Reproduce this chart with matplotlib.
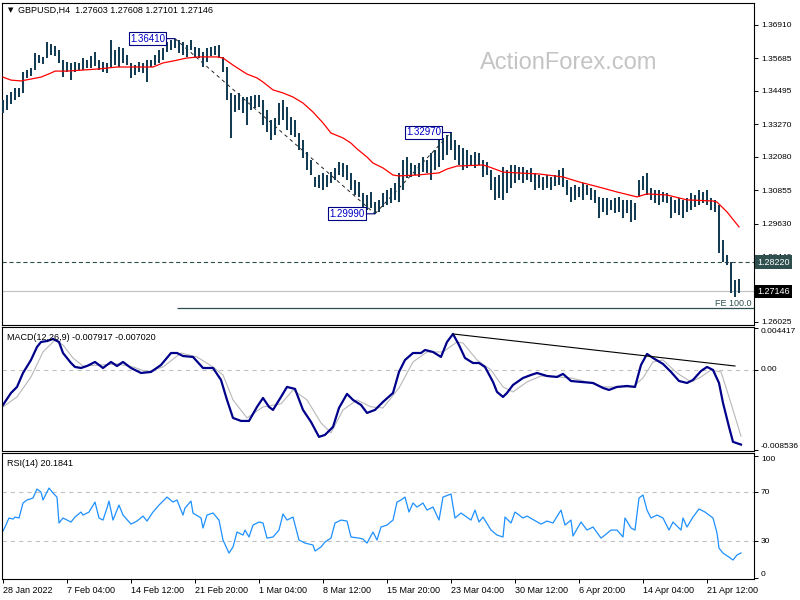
import numpy as np
import matplotlib.pyplot as plt

plt.rcParams['font.family'] = ['Liberation Sans', 'DejaVu Sans']
plt.rcParams['lines.scale_dashes'] = False

# GBPUSD H4 bars (every other bar)
bar_idx = np.arange(0, 370, 2)
highs = [
    1.3416, 1.3434, 1.3445, 1.3460, 1.3460, 1.3519, 1.3526, 1.3533, 1.3588, 1.3581,
    1.3574, 1.3629, 1.3621, 1.3614, 1.3599, 1.3563, 1.3555, 1.3552, 1.3555, 1.3552,
    1.3570, 1.3563, 1.3577, 1.3592, 1.3563, 1.3555, 1.3552, 1.3636, 1.3599, 1.3610,
    1.3607, 1.3581, 1.3552, 1.3544, 1.3555, 1.3552, 1.3563, 1.3563, 1.3581, 1.3599,
    1.3607, 1.3629, 1.3636, 1.3641, 1.3636, 1.3629, 1.3618, 1.3636, 1.3610, 1.3607,
    1.3592, 1.3607, 1.3610, 1.3614, 1.3618, 1.3574, 1.3537, 1.3442, 1.3434, 1.3442,
    1.3427, 1.3427, 1.3431, 1.3434, 1.3434, 1.3416, 1.3379, 1.3343, 1.3350, 1.3405,
    1.3416, 1.3390, 1.3354, 1.3343, 1.3295, 1.3270, 1.3226, 1.3196, 1.3134, 1.3141,
    1.3149, 1.3141, 1.3152, 1.3167, 1.3189, 1.3185, 1.3178, 1.3149, 1.3123, 1.3116,
    1.3075, 1.3068, 1.3079, 1.3042, 1.3050, 1.3075, 1.3086, 1.3094, 1.3112, 1.3149,
    1.3196, 1.3207, 1.3185, 1.3178, 1.3185, 1.3207, 1.3196, 1.3222, 1.3233, 1.3270,
    1.3277, 1.3288, 1.3297, 1.3270, 1.3251, 1.3240, 1.3233, 1.3215, 1.3226, 1.3222,
    1.3196, 1.3189, 1.3160, 1.3134, 1.3141, 1.3171, 1.3160, 1.3178, 1.3178, 1.3171,
    1.3171, 1.3160, 1.3167, 1.3149, 1.3141, 1.3134, 1.3141, 1.3134, 1.3141, 1.3160,
    1.3167, 1.3123, 1.3097, 1.3105, 1.3097, 1.3112, 1.3105, 1.3094, 1.3086, 1.3061,
    1.3057, 1.3057, 1.3050, 1.3057, 1.3061, 1.3050, 1.3050, 1.3050, 1.3039, 1.3123,
    1.3138, 1.3149, 1.3094, 1.3086, 1.3086, 1.3079, 1.3075, 1.3061, 1.3050, 1.3057,
    1.3050, 1.3057, 1.3075, 1.3068, 1.3086, 1.3079, 1.3086, 1.3057, 1.3050, 1.3031,
    1.2903, 1.2848, 1.2822, 1.2756, 1.2761,
]
lows = [
    1.3368, 1.3379, 1.3401, 1.3416, 1.3427, 1.3442, 1.3497, 1.3504, 1.3526, 1.3552,
    1.3548, 1.3570, 1.3581, 1.3577, 1.3552, 1.3500, 1.3519, 1.3489, 1.3519, 1.3526,
    1.3526, 1.3533, 1.3533, 1.3541, 1.3526, 1.3519, 1.3515, 1.3537, 1.3544, 1.3537,
    1.3552, 1.3544, 1.3497, 1.3508, 1.3519, 1.3515, 1.3482, 1.3537, 1.3544, 1.3552,
    1.3563, 1.3592, 1.3599, 1.3607, 1.3588, 1.3581, 1.3574, 1.3599, 1.3574, 1.3570,
    1.3537, 1.3555, 1.3577, 1.3581, 1.3570, 1.3519, 1.3416, 1.3277, 1.3372, 1.3379,
    1.3368, 1.3325, 1.3379, 1.3387, 1.3390, 1.3325, 1.3299, 1.3270, 1.3288, 1.3325,
    1.3343, 1.3306, 1.3288, 1.3281, 1.3233, 1.3204, 1.3160, 1.3141, 1.3097, 1.3094,
    1.3086, 1.3097, 1.3112, 1.3123, 1.3141, 1.3134, 1.3123, 1.3086, 1.3068, 1.3061,
    1.3020, 1.3013, 1.3020, 1.2999, 1.3006, 1.3024, 1.3031, 1.3039, 1.3050, 1.3042,
    1.3086, 1.3130, 1.3134, 1.3141, 1.3134, 1.3152, 1.3149, 1.3123, 1.3160, 1.3171,
    1.3196, 1.3215, 1.3233, 1.3196, 1.3178, 1.3160, 1.3167, 1.3178, 1.3167, 1.3178,
    1.3134, 1.3141, 1.3086, 1.3050, 1.3057, 1.3050, 1.3075, 1.3094, 1.3112, 1.3123,
    1.3112, 1.3123, 1.3116, 1.3086, 1.3094, 1.3086, 1.3094, 1.3086, 1.3101, 1.3105,
    1.3097, 1.3068, 1.3042, 1.3050, 1.3061, 1.3050, 1.3068, 1.3050, 1.3039, 1.2984,
    1.3006, 1.2995, 1.3013, 1.3002, 1.3006, 1.2984, 1.3002, 1.2969, 1.2976, 1.3061,
    1.3086, 1.3068, 1.3050, 1.3039, 1.3031, 1.3042, 1.3039, 1.2984, 1.3002, 1.2995,
    1.2984, 1.3006, 1.3013, 1.3024, 1.3031, 1.3039, 1.3031, 1.3013, 1.3006, 1.2855,
    1.2822, 1.2811, 1.2709, 1.2694, 1.2710,
]

# moving average (red)
ma_idx = [0, 4, 9, 14, 19, 24, 26, 32, 40, 48, 57, 65, 75, 80, 85, 92, 98, 107, 110, 115,
          122, 127, 130, 135, 140, 145, 150, 155, 160, 164, 170, 174, 177, 182, 185, 190, 195, 198, 207, 218,
          222, 227, 240, 243, 250, 257, 268, 280, 288, 298, 307, 317, 322, 332, 342, 355, 357, 362, 368]
ma_val = [1.3500, 1.3489, 1.3486, 1.3493, 1.3500, 1.3515, 1.3522, 1.3522, 1.3526, 1.3530,
          1.3537, 1.3537, 1.3537, 1.3552, 1.3559, 1.3570, 1.3574, 1.3574, 1.3570, 1.3544,
          1.3511, 1.3497, 1.3482, 1.3453, 1.3442, 1.3427, 1.3405, 1.3372, 1.3332, 1.3295,
          1.3277, 1.3258, 1.3237, 1.3207, 1.3185, 1.3167, 1.3141, 1.3138, 1.3141, 1.3149,
          1.3163, 1.3174, 1.3178, 1.3171, 1.3152, 1.3149, 1.3145, 1.3134, 1.3116, 1.3097,
          1.3079, 1.3061, 1.3072, 1.3068, 1.3050, 1.3046, 1.3042, 1.3006, 1.2951]

# MACD(12,26,9)
macd_idx = [0, 4, 7, 10, 14, 17, 19, 22, 25, 28, 30, 34, 36, 39, 42, 46, 50, 54, 57, 60,
            64, 69, 74, 79, 84, 87, 90, 95, 100, 105, 109, 112, 115, 119, 123, 127, 130, 133, 135, 139,
            142, 146, 150, 154, 158, 161, 165, 168, 172, 175, 179, 182, 186, 190, 195, 198, 201, 205, 209, 211,
            215, 219, 222, 225, 228, 231, 235, 238, 241, 245, 247, 250, 252, 255, 260, 264, 267, 272, 277, 280,
            284, 289, 295, 300, 303, 307, 312, 316, 319, 322, 325, 330, 334, 338, 342, 345, 349, 352, 355, 358,
            360, 363, 365, 369]
macd_val = [-0.00371, -0.00244, -0.00180, -0.00032, 0.00106, 0.00244, 0.00297, 0.00307, 0.00329, 0.00297,
            0.00180, 0.00074, 0.00032, 0.00021, 0.00042, 0.00085, 0.00021, 0.00085, 0.00042, 0.00085,
            0.00021, -0.00032, -0.00021, 0.00053, 0.00180, 0.00180, 0.00148, 0.00138, 0.00021, 0.00021,
            -0.00106, -0.00318, -0.00509, -0.00541, -0.00541, -0.00392, -0.00297, -0.00392, -0.00424, -0.00286,
            -0.00180, -0.00201, -0.00424, -0.00551, -0.00710, -0.00689, -0.00604, -0.00403, -0.00254, -0.00318,
            -0.00371, -0.00456, -0.00424, -0.00339, -0.00244, -0.00021, 0.00106, 0.00180, 0.00180, 0.00212,
            0.00191, 0.00138, 0.00297, 0.00382, 0.00265, 0.00127, 0.00074, 0.00074, 0.00032, -0.00127,
            -0.00233, -0.00286, -0.00244, -0.00159, -0.00085, -0.00053, -0.00032, -0.00064, -0.00074, -0.00042,
            -0.00117, -0.00127, -0.00138, -0.00191, -0.00212, -0.00180, -0.00170, -0.00180, 0.00053, 0.00170,
            0.00127, 0.00064, -0.00021, -0.00117, -0.00138, -0.00106, -0.00011, 0.00032, 0.00000, -0.00138,
            -0.00350, -0.00604, -0.00763, -0.00792]
sig_idx = [0, 7, 14, 20, 26, 30, 35, 40, 49, 57, 65, 72, 80, 89, 97, 105, 110, 115, 122, 130,
           139, 145, 152, 159, 164, 170, 177, 184, 190, 198, 205, 212, 220, 227, 230, 237, 244, 250, 255, 262,
           269, 277, 284, 292, 300, 307, 315, 320, 325, 330, 337, 344, 349, 354, 359, 363, 369]
sig_val = [-0.00392, -0.00286, -0.00074, 0.00191, 0.00318, 0.00265, 0.00127, 0.00042, 0.00053, 0.00064,
           0.00032, -0.00021, 0.00032, 0.00180, 0.00138, 0.00032, -0.00053, -0.00318, -0.00509, -0.00392,
           -0.00360, -0.00212, -0.00318, -0.00562, -0.00668, -0.00424, -0.00318, -0.00392, -0.00403, -0.00191,
           0.00085, 0.00191, 0.00191, 0.00297, 0.00286, 0.00106, 0.00000, -0.00180, -0.00233, -0.00127,
           -0.00064, -0.00074, -0.00085, -0.00127, -0.00180, -0.00180, -0.00180, -0.00085, 0.00085, 0.00106,
           -0.00032, -0.00127, -0.00074, 0.00000, -0.00021, -0.00286, -0.00702]

# RSI(14)
rsi_idx = [0, 1, 3, 5, 6, 8, 10, 12, 15, 17, 19, 20, 23, 25, 27, 28, 30, 34, 36, 39,
           40, 43, 46, 48, 50, 52, 53, 55, 58, 60, 64, 67, 70, 72, 75, 78, 82, 85, 87, 90,
           91, 94, 95, 99, 100, 102, 105, 108, 110, 113, 115, 117, 120, 121, 123, 125, 128, 130, 132, 135,
           138, 140, 142, 145, 148, 151, 155, 156, 159, 161, 164, 166, 169, 172, 174, 178, 180, 182, 185, 187,
           189, 192, 195, 197, 199, 201, 203, 205, 207, 210, 212, 215, 218, 220, 224, 226, 229, 234, 236, 238,
           240, 244, 247, 250, 251, 254, 256, 260, 262, 269, 272, 275, 279, 281, 284, 285, 289, 292, 295, 299,
           301, 304, 307, 310, 311, 314, 316, 318, 320, 322, 324, 327, 330, 333, 335, 339, 340, 342, 345, 348,
           351, 355, 357, 358, 360, 363, 365, 367, 369]
rsi_val = [38.2, 41.5, 48.9, 48.0, 49.7, 48.9, 61.2, 63.7, 65.3, 72.7, 70.2, 63.7, 73.5, 69.4, 66.1, 44.8, 48.9, 45.6, 49.7, 53.8,
           51.3, 53.8, 62.0, 48.9, 47.2, 57.1, 62.8, 47.2, 59.5, 51.3, 43.9, 46.4, 50.5, 46.4, 53.8, 59.5, 66.1, 62.0, 63.7, 51.3,
           57.1, 62.8, 53.0, 48.9, 40.7, 51.3, 53.0, 47.2, 30.8, 20.1, 25.1, 37.4, 34.9, 39.0, 33.3, 43.1, 45.6, 44.8, 32.4, 33.3,
           39.0, 52.2, 47.2, 49.7, 30.8, 28.3, 26.7, 21.8, 25.1, 29.2, 32.4, 44.8, 47.2, 46.4, 33.3, 32.4, 31.6, 28.3, 37.4, 30.8,
           41.5, 43.1, 47.2, 62.0, 63.7, 66.1, 53.8, 61.2, 57.9, 61.2, 55.4, 57.9, 47.2, 66.1, 68.6, 48.9, 53.0, 47.2, 55.4, 45.6,
           49.7, 39.0, 34.9, 33.3, 49.7, 44.8, 53.8, 48.9, 50.5, 43.9, 46.4, 44.8, 55.4, 43.1, 47.2, 34.1, 45.6, 39.0, 41.5, 32.4,
           34.9, 39.0, 39.0, 33.3, 48.9, 40.7, 39.0, 65.3, 67.8, 55.4, 48.9, 51.3, 48.9, 39.0, 45.6, 39.0, 48.9, 41.5, 49.7, 56.3,
           53.8, 48.9, 36.6, 24.2, 20.1, 16.8, 14.4, 18.5, 20.2]

price_ticks = [1.36910, 1.35685, 1.34495, 1.33270, 1.32080, 1.30855, 1.29630, 1.28440, 1.26025]
date_idx = [0, 32, 64, 96, 128, 160, 192, 224, 256, 288, 320, 352]
date_labels = ['28 Jan 2022', '7 Feb 04:00', '14 Feb 12:00', '21 Feb 20:00', '1 Mar 04:00',
               '8 Mar 12:00', '15 Mar 20:00', '23 Mar 04:00', '30 Mar 12:00', '6 Apr 20:00',
               '14 Apr 04:00', '21 Apr 12:00']

# swing points and levels
hi1 = (86, 1.36410)
lo1 = (186, 1.29990)
hi2 = (224, 1.32970)
fe100 = 1.2655
level = 1.28220
last_close = 1.27146

bar_c = '#143c52'
W, H = 800, 600
fig = plt.figure(figsize=(8, 6), dpi=100)


def panel(x0, y0, x1, y1):
    a = fig.add_axes([x0 / W, 1 - y1 / H, (x1 - x0) / W, (y1 - y0) / H])
    a.set_xlim(-0.5, 375.5)
    for s in a.spines.values():
        s.set_linewidth(0.8)
        s.set_color('black')
    a.tick_params(axis='y', right=True, left=False, labelright=True, labelleft=False,
                  length=3, width=0.7, pad=2, labelsize=6)
    a.tick_params(axis='x', bottom=False, labelbottom=False)
    return a


ax1 = panel(2, 3, 754, 325)
ax2 = panel(2, 327, 754, 451)
ax3 = panel(2, 453, 754, 579)

# ---- price panel
ax1.set_ylim(1.25915, 1.37716)
ax1.vlines(bar_idx, lows, highs, color=bar_c, lw=1.45, zorder=3)
ax1.plot(ma_idx, ma_val, color='red', lw=0.9, zorder=4)
ax1.plot([hi1[0], lo1[0]], [hi1[1], lo1[1]], color='#222222', lw=0.7, ls=(0, (2.5, 2.5)), zorder=2)
ax1.plot([lo1[0], hi2[0]], [lo1[1], hi2[1]], color='#222222', lw=0.7, ls=(0, (2.5, 2.5)), zorder=2)
ax1.axhline(level, color='#2f4f4f', lw=0.8, ls=(0, (3, 2)), zorder=2)
ax1.axhline(last_close, color='#c0c0c0', lw=0.8, zorder=1)
ax1.hlines(fe100, 87, 375.5, color='#2f4f4f', lw=0.9, zorder=2)
ax1.text(0.997, fe100, 'FE 100.0', transform=ax1.get_yaxis_transform(), ha='right', va='bottom',
         fontsize=6.5, color='#2f4f4f')
ax1.set_yticks(price_ticks)
ax1.set_yticklabels(['%.5f' % p for p in price_ticks])

for (xi, yi) in (hi1, lo1, hi2):
    ax1.annotate('%.5f' % yi, xy=(xi, yi), xytext=(-10, 0), textcoords='offset pixels',
                 ha='right', va='center', fontsize=7, color='#0000c8',
                 bbox=dict(boxstyle='square,pad=0.15', fc='white', ec='#000080', lw=0.8),
                 arrowprops=dict(arrowstyle='-', color='#000080', lw=0.8, shrinkA=0, shrinkB=0),
                 zorder=6)

ax1.text(1.004, level, '%.5f' % level, transform=ax1.get_yaxis_transform(), ha='left', va='center',
         fontsize=6.5, color='white', clip_on=False, zorder=7,
         bbox=dict(boxstyle='square,pad=0.25', fc='#2f4f4f', ec='none'))
ax1.text(1.004, last_close, '%.5f' % last_close, transform=ax1.get_yaxis_transform(), ha='left',
         va='center', fontsize=6.5, color='white', clip_on=False, zorder=7,
         bbox=dict(boxstyle='square,pad=0.25', fc='black', ec='none'))

fig.text(480 / W, 1 - 63 / H, 'ActionForex.com', fontsize=17, color='#c4c4c4', ha='left', va='center')
fig.text(8 / W, 1 - 10 / H, '\u25bc', fontsize=5, ha='left', va='center', family='DejaVu Sans')
fig.text(18 / W, 1 - 10 / H, 'GBPUSD,H4  1.27603 1.27608 1.27101 1.27146', fontsize=6.5,
         ha='left', va='center')

# ---- MACD panel
ax2.set_ylim(-0.00860, 0.00456)
ax2.axhline(0, color='#c0c0c0', lw=0.8, ls=(0, (3, 3)))
ax2.plot(sig_idx, sig_val, color='#b8b8b8', lw=0.8)
ax2.plot(macd_idx, macd_val, color='#00008b', lw=1.6)
ax2.plot([225, 366], [0.00382, 0.00042], color='black', lw=0.8)
ax2.set_yticks([0.004417, 0.0, -0.008536])
ax2.set_yticklabels(['0.004417', '0.00', '-0.008536'])
for lab, va in zip(ax2.get_yticklabels(), ['top', 'center', 'bottom']):
    lab.set_va(va)
fig.text(7 / W, 1 - 337 / H, 'MACD(12,26,9) -0.007917 -0.007020', fontsize=6.5, ha='left', va='center')

# ---- RSI panel
ax3.set_ylim(-1.2, 102.3)
for lvl in (70, 30):
    ax3.axhline(lvl, color='#c0c0c0', lw=0.8, ls=(0, (3, 3)))
ax3.plot(rsi_idx, rsi_val, color='#1e90ff', lw=0.9)
ax3.set_yticks([100, 70, 30, 0])
ax3.set_yticklabels(['100', '70', '30', '0'])
for lab, va in zip(ax3.get_yticklabels(), ['top', 'center', 'center', 'bottom']):
    lab.set_va(va)
ax3.tick_params(axis='x', bottom=True, labelbottom=True, length=3, width=0.7, pad=2, labelsize=6.5)
ax3.set_xticks(date_idx)
ax3.set_xticklabels(date_labels)
for lab in ax3.get_xticklabels():
    lab.set_ha('left')
fig.text(7 / W, 1 - 463 / H, 'RSI(14) 20.1841', fontsize=6.5, ha='left', va='center')

fig.savefig('out.png', dpi=100)
